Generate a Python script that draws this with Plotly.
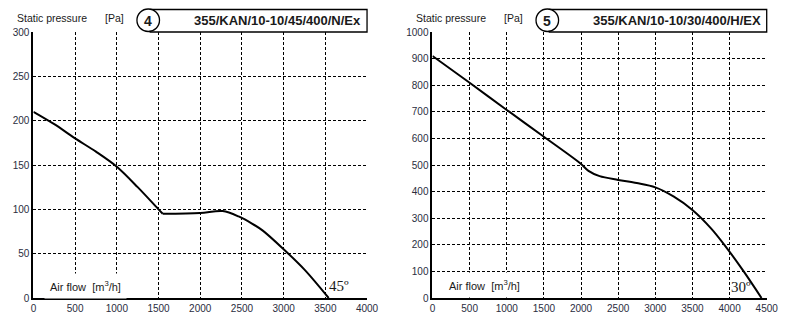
import plotly.graph_objects as go

# ---- data ----
left_flow = [0, 250, 500, 750, 1000, 1250, 1500, 1550, 2000, 2270, 2460, 2620, 2750, 3000, 3250, 3540]
left_pressure = [210, 196, 180, 165, 148, 125, 100, 95, 96, 98, 92, 84, 76, 55, 32, 0]

right_flow = [0, 500, 1000, 1500, 2000, 2100, 2250, 2500, 2750, 3000, 3250, 3500, 3750, 3930, 4190, 4430]
right_pressure = [910, 809, 707, 606, 504, 478, 458, 444, 432, 416, 381, 331, 262, 200, 100, 0]

left_title = "355/KAN/10-10/45/400/N/Ex"
right_title = "355/KAN/10-10/30/400/H/EX"
left_no = "4"
right_no = "5"
left_angle = "45º"
right_angle = "30º"

left_xticks = list(range(0, 4001, 500))
left_yticks = list(range(0, 301, 50))
right_xticks = list(range(0, 4501, 500))
right_yticks = list(range(0, 1001, 100))

W, H = 800, 324
MT, MB = 32, 26
fig = go.Figure()

KINK = 7  # index of the sharp bend in the left curve
line_style = dict(color="black", width=2, shape="spline", smoothing=0.9)
fig.add_trace(go.Scatter(x=left_flow[:KINK + 1], y=left_pressure[:KINK + 1], mode="lines",
                         line=line_style, xaxis="x", yaxis="y", showlegend=False, hoverinfo="skip"))
fig.add_trace(go.Scatter(x=left_flow[KINK:], y=left_pressure[KINK:], mode="lines",
                         line=line_style, xaxis="x", yaxis="y", showlegend=False, hoverinfo="skip"))
fig.add_trace(go.Scatter(x=right_flow, y=right_pressure, mode="lines",
                         line=line_style, xaxis="x2", yaxis="y2", showlegend=False, hoverinfo="skip"))

tickfont = dict(family="Liberation Sans, Arial, sans-serif", size=10, color="#2a2d3e")
grid = dict(showgrid=True, gridcolor="black", gridwidth=1, griddash="3px,2px",
            zeroline=False, showline=True, linecolor="black", linewidth=2,
            ticks="", tickfont=tickfont, fixedrange=True)

fig.update_layout(
    width=W, height=H,
    margin=dict(l=0, r=0, t=MT, b=MB),
    plot_bgcolor="white", paper_bgcolor="white",
    xaxis=dict(domain=[31 / W, 371 / W], range=[0, 4000], tickvals=left_xticks,
               anchor="y", **grid),
    yaxis=dict(domain=[0, 1], range=[0, 300], tickvals=left_yticks, anchor="x", **grid),
    xaxis2=dict(domain=[437.7 / W, 778.3 / W], range=[0, 4500], tickvals=right_xticks,
                anchor="y2", **grid),
    yaxis2=dict(domain=[0, 1], range=[0, 1000], tickvals=right_yticks, anchor="x2", **grid),
)

label_font = dict(family="Liberation Sans, Arial, sans-serif", size=11, color="#1a1a1a")
head_font = dict(family="Liberation Sans, Arial, sans-serif", size=10.5, color="#1a1a1a")
title_font = dict(family="Liberation Sans, Arial, sans-serif", size=13, color="#1a1a1a")


def px_x(px):
    return px / W


def px_y(py):
    # paper y spans the area inside the margins
    return (H - MB - py) / (H - MT - MB)


for x0px, x1px, title, no, angle, xs, ys, ang_x, ang_y, flow_x, flow_y in [
    (31, 371, left_title, left_no, left_angle, "x", "y", 3660, 13, 620, 14),
    (437.7, 778.3, right_title, right_no, right_angle, "x2", "y2", 4150, 40, 700, 48),
]:
    cx = x0px + 117
    # title box
    fig.add_shape(type="rect", xref="paper", yref="paper",
                  x0=px_x(cx + 2), x1=px_x(x1px), y0=px_y(32), y1=px_y(9.5),
                  line=dict(color="black", width=1.3), fillcolor="white", layer="below")
    fig.add_shape(type="circle", xref="paper", yref="paper",
                  x0=px_x(cx - 11.5), x1=px_x(cx + 11.5), y0=px_y(31.5), y1=px_y(9),
                  line=dict(color="black", width=1.3), fillcolor="white", layer="below")
    fig.add_annotation(xref="paper", yref="paper", x=px_x(cx), y=px_y(20.5),
                       text="<b>" + no + "</b>", showarrow=False,
                       xanchor="center", yanchor="middle",
                       font=dict(family="Liberation Sans, Arial, sans-serif", size=14,
                                 color="#1a1a1a"))
    fig.add_annotation(xref="paper", yref="paper", x=px_x(x1px - 4), y=px_y(20.5),
                       text="<b>" + title + "</b>", showarrow=False,
                       xanchor="right", yanchor="middle", font=title_font)
    # axis title
    fig.add_annotation(xref="paper", yref="paper", x=px_x(x0px - 19), y=px_y(18),
                       text="Static pressure", showarrow=False,
                       xanchor="left", yanchor="middle", font=head_font)
    fig.add_annotation(xref="paper", yref="paper", x=px_x(x0px + 71), y=px_y(18),
                       text="[Pa]", showarrow=False,
                       xanchor="left", yanchor="middle", font=head_font)
    # air flow label (masks grid)
    fig.add_annotation(xref=xs, yref=ys, x=flow_x, y=flow_y,
                       text="Air flow  [m<sup>3</sup>/h]", showarrow=False,
                       bgcolor="white", borderpad=5, font=label_font)
    fig.add_annotation(xref=xs, yref=ys, x=ang_x, y=ang_y, text=angle, showarrow=False,
                       font=dict(family="Liberation Serif, Times New Roman, serif", size=15,
                                 color="#1a1a1a"))

fig.write_html("out.html")
